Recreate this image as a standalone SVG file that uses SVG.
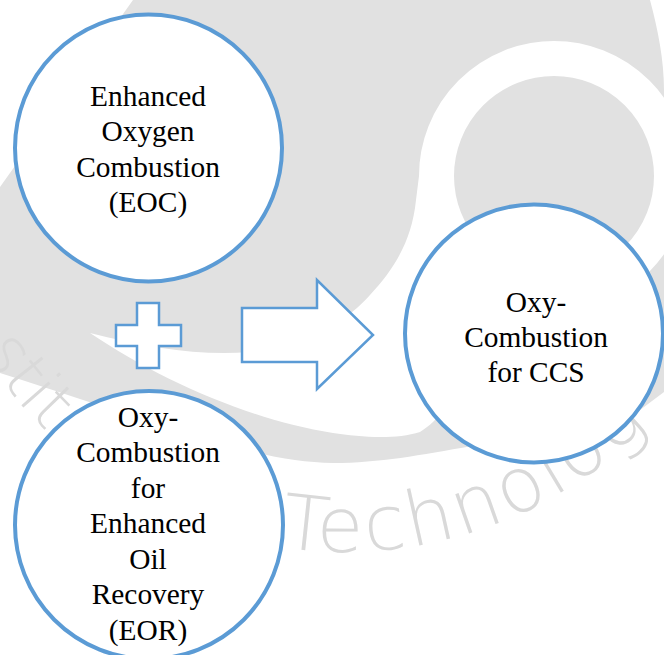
<svg xmlns="http://www.w3.org/2000/svg" width="664" height="655" viewBox="0 0 664 655">
<style>
.node circle{fill:#fff;stroke:#5b9bd5;stroke-width:4}
.lbl{font-family:"Liberation Serif","Times New Roman",serif;font-size:29.4px;fill:#000;text-anchor:middle}
.sym{fill:#fff;stroke:#5b9bd5;stroke-width:2.5;stroke-linejoin:miter}
.wm{fill:#e1e1e1}
.wmt{font-family:"DejaVu Sans",sans-serif;font-weight:200;fill:#d9d9d9;font-size:76px;letter-spacing:3px}
</style>
<defs>
<path id="wmring" d="M -57.8,-21 A 427 427 0 1 0 744.8,-21"/>
</defs>
<g id="watermark">
<path class="wm" d="M133,0 L650,0 C658,30 664,60 664,90 L664,392 L600,440 L520,455 L472,446 C420,455 380,463 333,463 C250,462 150,420 0,373 L0,187 Z"/>
<circle cx="554" cy="176" r="117.5" fill="none" stroke="#fff" stroke-width="35"/>
<path fill="#fff" d="M90,333 C150,348 200,356 250,352 C310,345 350,318 370,295 C395,268 412,240 416,200 L419,176 L445,176 L452,235 L478,266 C480,330 460,410 420,432 C395,440 360,437 333,433 C250,420 160,380 90,333 Z"/>
<text class="wmt" style="font-size:66px;letter-spacing:0"><textPath href="#wmring" startOffset="387">stit</textPath></text>
<text class="wmt"><textPath href="#wmring" startOffset="756">Technolog</textPath></text>
</g>
<g id="connectors">
<path id="arrow" class="sym" d="M242,308 L317,308 L317,280 L373,335 L317,389 L317,362 L242,362 Z"/>
</g>
<g id="plus">
<path class="sym" d="M137,303 L159,303 L159,325 L181,325 L181,346 L159,346 L159,368 L137,368 L137,346 L116,346 L116,325 L137,325 Z"/>
</g>
<g id="eoc" class="node">
<circle cx="148.5" cy="148" r="133.5"/>
<text class="lbl" x="148" y="106">Enhanced</text>
<text class="lbl" x="148" y="141.3">Oxygen</text>
<text class="lbl" x="148" y="176.6">Combustion</text>
<text class="lbl" x="148" y="211.9">(EOC)</text>
</g>
<g id="ccs" class="node">
<circle cx="534" cy="333.5" r="129"/>
<text class="lbl" x="536" y="311.7">Oxy-</text>
<text class="lbl" x="536" y="346.7">Combustion</text>
<text class="lbl" x="536" y="381.7">for CCS</text>
</g>
<g id="eor" class="node">
<circle cx="149" cy="525" r="134"/>
<text class="lbl" x="148" y="426.7">Oxy-</text>
<text class="lbl" x="148" y="462.2">Combustion</text>
<text class="lbl" x="148" y="497.8">for</text>
<text class="lbl" x="148" y="533.3">Enhanced</text>
<text class="lbl" x="148" y="568.9">Oil</text>
<text class="lbl" x="148" y="604.4">Recovery</text>
<text class="lbl" x="148" y="640">(EOR)</text>
</g>
</svg>
